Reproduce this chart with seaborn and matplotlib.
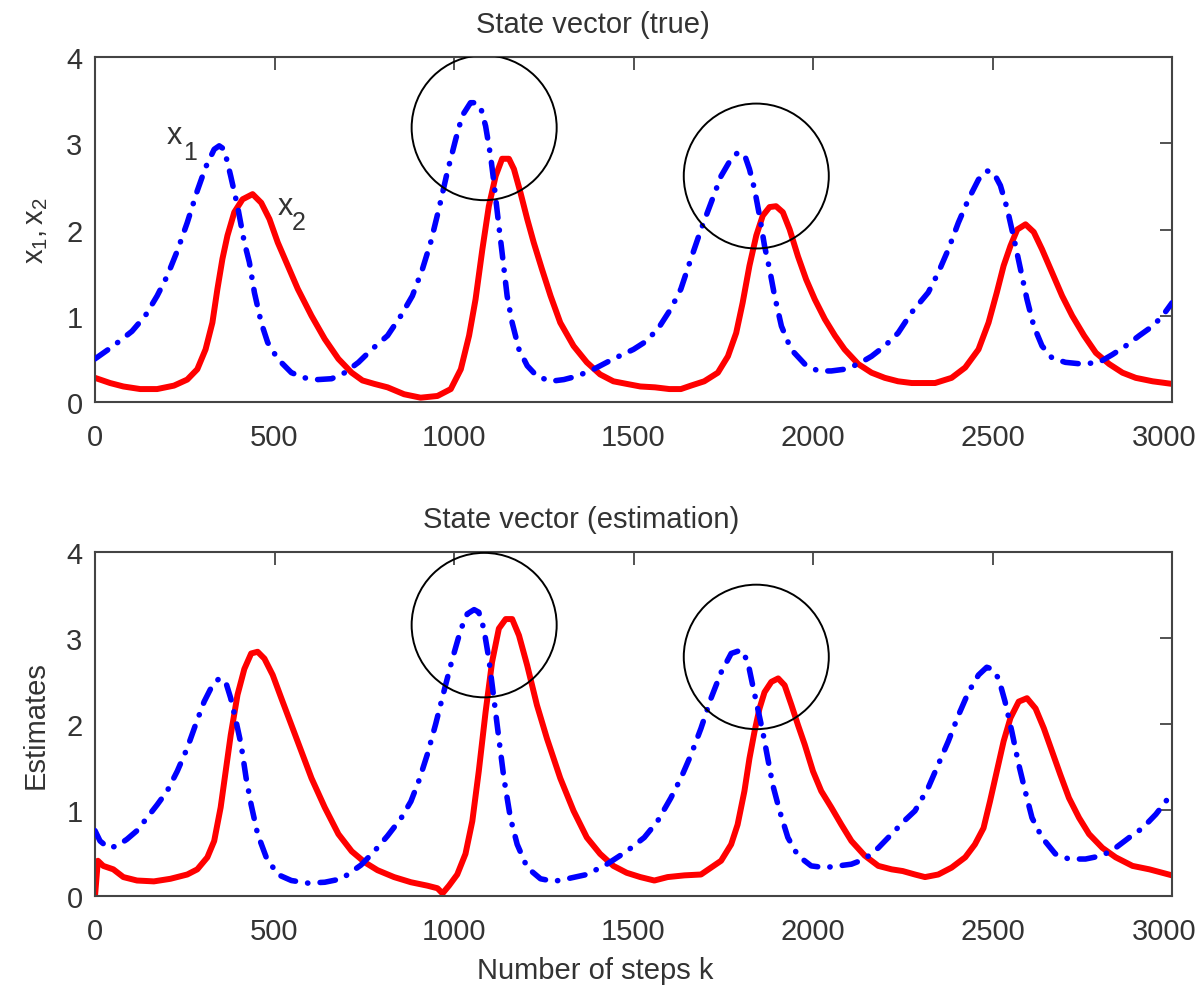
import matplotlib
matplotlib.use("Agg")
import matplotlib.pyplot as plt
from matplotlib.patches import Ellipse
import matplotlib.transforms as mtransforms
import seaborn as sns
import pandas as pd

# ---------------- data ----------------
top_x1_k = [0,51,103,140,173,201,229,257,285,308, 332,346,360,378,397,416,430,444,463,481,
            509,547,584,621,659,696,734,771,815,852, 884,912,935,958,981,1005,1023,1046,1060,1074,
            1088,1102,1111,1125,1134,1148,1162,1181,1204,1231, 1269,1306,1343,1389,1444,1500,1530,1567,1604,1632,
            1660,1688,1716,1744,1772,1790,1809,1823,1837,1851, 1865,1879,1893,1912,1939,1977,2014,2051,2088,2126,
            2163,2200,2237,2275,2321,2349,2377,2405,2433,2461, 2484,2503,2522,2541,2560,2578,2596,2615,2638,2666,
            2703,2750,2797,2834,2871,2909,2946,2974,3000]
top_x1_v = [0.50,0.65,0.82,1.0,1.23,1.46,1.75,2.08,2.45,2.72, 2.93,2.97,2.93,2.62,2.27,1.85,1.62,1.27,0.92,0.69,
            0.50,0.34,0.28,0.26,0.27,0.34,0.46,0.61,0.77,1.0, 1.23,1.54,1.85,2.24,2.66,3.05,3.32,3.47,3.47,3.42,
            3.20,2.85,2.55,2.04,1.73,1.23,0.92,0.61,0.42,0.30, 0.24,0.26,0.30,0.38,0.50,0.61,0.69,0.84,1.08,1.31,
            1.66,2.0,2.31,2.62,2.82,2.89,2.87,2.70,2.47,2.16, 1.81,1.54,1.23,0.88,0.61,0.44,0.36,0.36,0.38,0.44,
            0.53,0.65,0.80,1.04,1.27,1.50,1.77,2.08,2.35,2.58, 2.68,2.66,2.51,2.24,1.89,1.54,1.19,0.88,0.65,0.51,
            0.46,0.44,0.46,0.55,0.65,0.77,0.88,1.0,1.15]

top_x2_k = [0,42,79,126,173,220,257,285,308,327, 341,355,369,388,411,439,463,486,509,537,
            565,603,640,678,715,745,778,815,861,907, 954,991,1019,1042,1060,1079,1097,1116,1134,1153,
            1167,1185,1204,1222,1245,1269,1296,1333,1370,1407, 1444,1481,1519,1560,1600,1632,1660,1697,1735,1763,
            1786,1804,1823,1842,1860,1879,1897,1916,1935,1958, 1981,2005,2033,2061,2088,2126,2163,2200,2237,2275,
            2340,2386,2424,2461,2489,2512,2531,2550,2569, 2592,2615,2638,2666,2694,2722,2755,2788,2825,2862,
            2899,2946,3000]
top_x2_v = [0.28,0.22,0.18,0.15,0.15,0.19,0.26,0.38,0.61,0.92, 1.31,1.66,1.93,2.20,2.35,2.41,2.31,2.12,1.85,1.58,
            1.31,1.0,0.73,0.50,0.34,0.25,0.21,0.17,0.09,0.05, 0.07,0.15,0.38,0.77,1.19,1.77,2.27,2.62,2.82,2.82,
            2.70,2.43,2.12,1.85,1.54,1.23,0.92,0.65,0.46,0.32, 0.24,0.21,0.18,0.17,0.15,0.15,0.19,0.24,0.34,0.53,
            0.80,1.15,1.58,1.93,2.16,2.26,2.27,2.20,2.0,1.69, 1.42,1.19,0.96,0.77,0.61,0.44,0.34,0.28,0.24,0.22,
            0.22,0.28,0.40,0.61,0.92,1.27,1.58,1.81,2.0, 2.06,1.97,1.77,1.50,1.23,1.0,0.77,0.57,0.44,0.34,
            0.28,0.24,0.21]

est_x1_k = [0,14,37,61,89,117,145,173,201,229, 257,280,304,327,346,364,378,393,407,421,
            435,453,477,509,547,593,640,687,741,778, 815,852,880,903,926,949,972,995,1019,1037,
            1056,1069,1083,1097,1111,1125,1139,1157,1176,1204, 1241,1278,1315,1370,1426,1481,1530,1567,1604,1632,
            1660,1688,1716,1744,1772,1800,1818,1832,1846,1860, 1874,1888,1907,1930,1958,1995,2033,2070,2107,2144,
            2182,2219,2256,2284,2321,2349,2377,2405,2433,2461, 2484,2498,2517,2535,2554,2573,2591,2610,2638,2675,
            2713,2759,2806,2843,2881,2918,2955,2983,3000]
est_x1_v = [0.76,0.64,0.56,0.58,0.66,0.76,0.91,1.06,1.22,1.45, 1.72,1.99,2.26,2.45,2.53,2.49,2.30,2.03,1.76,1.37,
            1.06,0.72,0.45,0.25,0.18,0.15,0.16,0.20,0.36,0.52, 0.70,0.90,1.10,1.35,1.65,2.0,2.38,2.75,3.10,3.28,
            3.33,3.30,3.11,2.76,2.30,1.83,1.37,0.91,0.60,0.33, 0.20,0.17,0.20,0.25,0.37,0.52,0.68,0.87,1.14,1.37,
            1.64,1.95,2.30,2.60,2.82,2.86,2.73,2.45,2.18,1.91, 1.60,1.29,0.99,0.68,0.47,0.35,0.33,0.35,0.37,0.43,
            0.56,0.72,0.88,0.99,1.26,1.53,1.80,2.10,2.37,2.57, 2.66,2.64,2.53,2.26,1.91,1.53,1.22,0.91,0.68,0.49,
            0.43,0.43,0.47,0.56,0.68,0.79,0.95,1.10,1.22]

est_x2_k = [0,8,23,51,79,117,164,210,257,285, 313,332,350,364,378,397,416,435,453,472,
            495,519,547,575,603,640,678,715,752,787, 833,880,926,954,968,986,1009,1032,1051,1069,
            1088,1106,1125,1144,1162,1181,1204,1231,1259,1296, 1333,1370,1407,1444,1481,1519,1558,1595,1642,1688,
            1716,1744,1772,1790,1809,1823,1837,1851,1865,1884, 1903,1921,1940,1958,1977,2000,2023,2051,2079,2107,
            2144,2182,2219,2250,2284,2312,2349,2386,2424,2451, 2475,2493,2512,2531,2550,2573,2596,2620,2643,2666,
            2689,2713,2741,2769,2806,2843,2890,2937,3000]
est_x2_v = [0.0,0.41,0.35,0.31,0.22,0.18,0.17,0.20,0.25,0.31, 0.45,0.64,1.03,1.45,1.87,2.34,2.64,2.82,2.84,2.76,
            2.57,2.30,1.99,1.68,1.37,1.03,0.72,0.52,0.39,0.30, 0.22,0.16,0.12,0.09,0.03,0.12,0.25,0.49,0.87,1.45,
            2.14,2.72,3.11,3.22,3.22,3.03,2.68,2.22,1.83,1.37, 0.99,0.68,0.49,0.35,0.27,0.22,0.18,0.22,0.24,0.25,
            0.33,0.41,0.60,0.83,1.22,1.60,1.91,2.18,2.37,2.49, 2.53,2.45,2.22,1.99,1.76,1.45,1.22,1.03,0.83,0.64,
            0.47,0.35,0.31,0.29,0.25,0.22,0.25,0.33,0.45,0.60, 0.79,1.10,1.45,1.80,2.07,2.26,2.30,2.18,1.95,1.68,
            1.41,1.14,0.91,0.72,0.56,0.45,0.35,0.31,0.24]

# highlight circles: (center k, center value)
top_circles = [(1084, 3.18), (1842, 2.62)]
est_circles = [(1084, 3.15), (1842, 2.78)]
circle_w, circle_h = 404, 1.68

titles = ["State vector (true)", "State vector (estimation)"]
ylabels = ["$\\mathregular{x_1,x_2}$", "Estimates"]
xlabel = "Number of steps k"
xticks = [0, 500, 1000, 1500, 2000, 2500, 3000]
yticks = [0, 1, 2, 3, 4]

# ---------------- style ----------------
sns.set_style("white")
plt.rcParams['font.family'] = ['Liberation Sans', 'DejaVu Sans']
plt.rcParams['mathtext.fontset'] = 'custom'
plt.rcParams['mathtext.rm'] = 'Liberation Sans'
plt.rcParams['mathtext.it'] = 'Liberation Sans'
FS = 21
TXT = '#333333'

fig = plt.figure(figsize=(12.01, 9.95), dpi=100)
ax_top = fig.add_axes([95/1201, 1-403/995, (1172-95)/1201, (403-58)/995])
ax_bot = fig.add_axes([95/1201, 1-897/995, (1172-95)/1201, (897-553)/995])

blue_dash = (0, (2.8, 2.2, 0.05, 2.2))

panels = [
    (ax_top, top_x1_k, top_x1_v, top_x2_k, top_x2_v, top_circles),
    (ax_bot, est_x1_k, est_x1_v, est_x2_k, est_x2_v, est_circles),
]
title_x = [0.462, 0.451]
for i, (ax, k1, v1, k2, v2, circ) in enumerate(panels):
    d1 = pd.DataFrame({"k": k1, "v": v1})
    d2 = pd.DataFrame({"k": k2, "v": v2})
    sns.lineplot(data=d2, x="k", y="v", ax=ax, color=(1, 0, 0), linewidth=4.3,
                 sort=True, estimator=None, zorder=2,
                 solid_capstyle='round', solid_joinstyle='round')
    sns.lineplot(data=d1, x="k", y="v", ax=ax, color=(0, 0, 1), linewidth=4.0,
                 linestyle=blue_dash, sort=True, estimator=None, zorder=3,
                 dash_capstyle='round', dash_joinstyle='round')
    for (cx, cy) in circ:
        ax.add_patch(Ellipse((cx, cy), circle_w, circle_h, fill=False,
                             edgecolor='black', linewidth=1.4, zorder=5))
    ax.set_xlim(0, 3000)
    ax.set_ylim(0, 4)
    ax.set_xticks(xticks)
    ax.set_yticks(yticks)
    ax.set_xticklabels([str(t) for t in xticks])
    ax.set_yticklabels([str(t) for t in yticks])
    ax.tick_params(axis='both', direction='in', length=9, width=1.3,
                   colors='#444444', labelcolor=TXT, labelsize=FS,
                   top=True, right=True)
    ax.tick_params(axis='x', pad=15)
    ax.tick_params(axis='y', pad=9)
    # keep the last tick label inside the figure
    last = ax.get_xticklabels()[-1]
    last.set_transform(last.get_transform() +
                       mtransforms.ScaledTranslation(-8/100, 0, fig.dpi_scale_trans))
    for s in ax.spines.values():
        s.set_visible(True)
        s.set_color('#444444')
        s.set_linewidth(1.5)
    ax.set_title(titles[i], fontsize=FS, color=TXT, pad=18, x=title_x[i])
    ax.set_ylabel(ylabels[i], fontsize=FS, color=TXT, labelpad=12)
    ax.set_xlabel("")

ax_bot.set_xlabel(xlabel, fontsize=FS, color=TXT)
ax_bot.xaxis.set_label_coords(0.464, -0.175)

# series labels in the true-state panel
ax_top.text(220, 3.09, "x", fontsize=FS + 1, color=TXT, ha='center', va='center')
ax_top.text(265, 2.90, "1", fontsize=FS - 3, color=TXT, ha='center', va='center')
ax_top.text(529, 2.27, "x", fontsize=FS + 1, color=TXT, ha='center', va='center')
ax_top.text(568, 2.09, "2", fontsize=FS - 3, color=TXT, ha='center', va='center')

fig.savefig("out.png", dpi=100)
